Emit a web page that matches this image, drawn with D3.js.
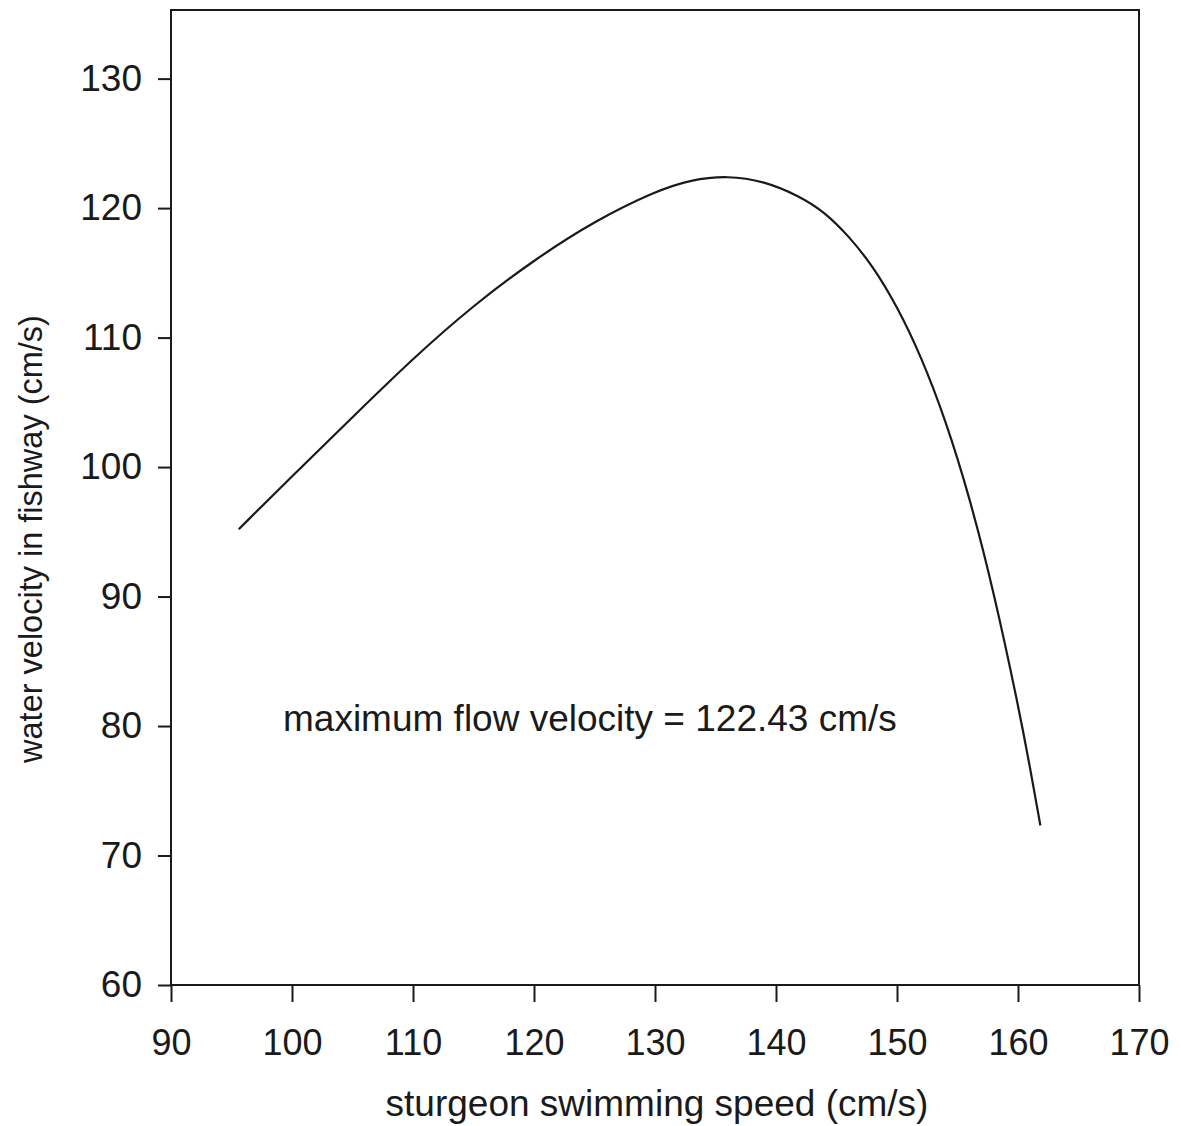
<!DOCTYPE html>
<html>
<head>
<meta charset="utf-8">
<script src="https://cdn.jsdelivr.net/npm/d3@7"></script>
<style>
  body { margin: 0; background: #fff; }
  svg { display: block; font-family: "Liberation Sans", Arial, sans-serif; }
</style>
</head>
<body>
<svg id="chart" width="1181" height="1126"></svg>
<script>
// values
var speed = [95.6, 100, 105, 110, 115, 120, 125, 130, 133, 136, 139, 142, 144, 146, 148, 150, 152, 154, 156, 158, 160, 161, 161.85];
var velocity = [95.2, 99.3, 103.85, 108.4, 112.5, 116.0, 119.0, 121.3, 122.2, 122.5, 122.1, 120.9, 119.7, 117.86, 115.53, 112.43, 108.53, 103.68, 97.68, 90.38, 81.68, 76.78, 72.32];
var xTicks = [90, 100, 110, 120, 130, 140, 150, 160, 170];
var yTicks = [60, 70, 80, 90, 100, 110, 120, 130];
var note = "maximum flow velocity = 122.43 cm/s";

var mLeft = 171, mRight = 1139, mTop = 10, mBottom = 985;

var svg = d3.select("#chart");

var x = d3.scaleLinear().domain([90, 170]).range([mLeft, mRight]);
var y = d3.scaleLinear().domain([60, 135.3]).range([mBottom, mTop]);

// frame
svg.append("rect")
    .attr("x", mLeft).attr("y", mTop)
    .attr("width", mRight - mLeft).attr("height", mBottom - mTop)
    .attr("fill", "none")
    .attr("stroke", "#1a1a1a")
    .attr("stroke-width", 2);

// y axis
var gy = svg.append("g")
    .attr("transform", "translate(" + mLeft + ",0)")
    .call(d3.axisLeft(y).tickValues(yTicks).tickSize(13).tickPadding(16).tickFormat(d3.format("d")));
gy.select(".domain").remove();
gy.selectAll("line").attr("stroke", "#1a1a1a").attr("stroke-width", 2);
gy.selectAll("text").attr("font-size", 37).attr("fill", "#1a1a1a")
    .attr("font-family", "Liberation Sans, Arial, sans-serif");

// x axis
var gx = svg.append("g")
    .attr("transform", "translate(0," + mBottom + ")")
    .call(d3.axisBottom(x).tickValues(xTicks).tickSize(17).tickPadding(27).tickFormat(d3.format("d")));
gx.select(".domain").remove();
gx.selectAll("line").attr("stroke", "#1a1a1a").attr("stroke-width", 2);
gx.selectAll("text").attr("font-size", 36).attr("fill", "#1a1a1a")
    .attr("font-family", "Liberation Sans, Arial, sans-serif");

// the curve (b-spline through the read-off points, smooths small reading errors)
var pts = speed.map(function (d, i) { return [d, velocity[i]]; });
var line = d3.line()
    .x(function (d) { return x(d[0]); })
    .y(function (d) { return y(d[1]); })
    .curve(d3.curveBasis);

svg.append("path")
    .datum(pts)
    .attr("d", line)
    .attr("fill", "none")
    .attr("stroke", "#1a1a1a")
    .attr("stroke-width", 2.2);

// annotation
svg.append("text")
    .attr("x", 283)
    .attr("y", 731)
    .attr("font-size", 37)
    .attr("fill", "#1a1a1a")
    .text(note);

// axis titles
svg.append("text")
    .attr("x", 657)
    .attr("y", 1116)
    .attr("text-anchor", "middle")
    .attr("font-size", 37)
    .attr("fill", "#1a1a1a")
    .text("sturgeon swimming speed (cm/s)");

svg.append("text")
    .attr("transform", "translate(42,539) rotate(-90)")
    .attr("text-anchor", "middle")
    .attr("font-size", 32.5)
    .attr("fill", "#1a1a1a")
    .text("water velocity in fishway (cm/s)");
</script>
</body>
</html>
